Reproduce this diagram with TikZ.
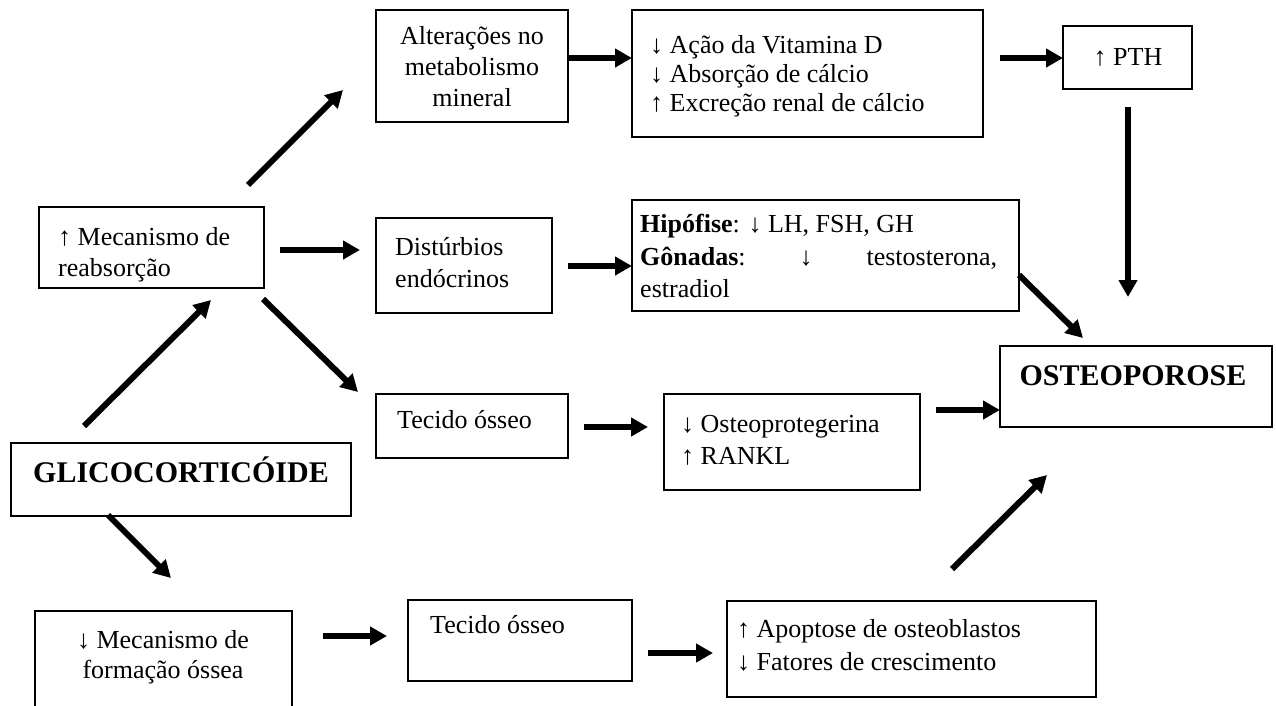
\documentclass[tikz,border=0pt]{standalone}
\usepackage{fontspec}
\setmainfont{Liberation Serif}
\usetikzlibrary{arrows.meta}
\begin{document}
\begin{tikzpicture}[x=1pt,y=-1pt,
  box/.style={draw, line width=1.8pt, inner sep=0pt},
  nobox/.style={inner sep=0pt},
  boxline/.style={line width=1.8pt},
  txt/.style={inner sep=0pt, font=\fontsize{26}{30}\selectfont},
  big/.style={inner sep=0pt, font=\fontsize{30}{34}\selectfont\bfseries},
  arr/.style={line width=6pt, -{Triangle[length=17pt,width=18pt]}},
]
\fill[white] (0,0) rectangle (1276,706);
\useasboundingbox (0,0) rectangle (1276,706);

% boxes
\node[box, minimum width=192pt, minimum height=112pt] (alt) at (472,66) {};
\node[box, minimum width=351pt, minimum height=127pt] (acao) at (807.5,73.5) {};
\node[box, minimum width=129pt, minimum height=63pt] (pth) at (1127.5,57.5) {};
\node[box, minimum width=225pt, minimum height=81pt] (reab) at (151.5,247.5) {};
\node[box, minimum width=176pt, minimum height=95pt] (dist) at (464,265.5) {};
\node[box, minimum width=387pt, minimum height=111pt] (hip) at (825.5,255.5) {};
\node[box, minimum width=272pt, minimum height=81pt] (osteo) at (1136,386.5) {};
\node[box, minimum width=192pt, minimum height=64pt] (tec1) at (472,426) {};
\node[box, minimum width=256pt, minimum height=96pt] (opg) at (792,442) {};
\node[box, minimum width=340pt, minimum height=73pt] (glico) at (181,479.5) {};
\node[nobox, minimum width=257pt, minimum height=95pt] (form) at (163.5,658.5) {};
\draw[boxline] (form.south west) |- (form.north east) -- (form.south east);
\node[box, minimum width=224pt, minimum height=81pt] (tec2) at (520,640.5) {};
\node[box, minimum width=369pt, minimum height=96pt] (apo) at (911.5,649) {};

% texts
\node[txt, anchor=base] (alt1) at (472,45) {Alterações no};
\node[txt, anchor=base] (alt2) at (472,76) {metabolismo};
\node[txt, anchor=base] (alt3) at (472,107) {mineral};

\node[txt, anchor=base west] (acao1) at (650,54) {↓ Ação da Vitamina D};
\node[txt, anchor=base west] (acao2) at (650,83) {↓ Absorção de cálcio};
\node[txt, anchor=base west] (acao3) at (650,112) {↑ Excreção renal de cálcio};

\node[txt, anchor=base] (pth1) at (1128,66) {↑ PTH};

\node[txt, anchor=base west] (reab1) at (58,245) {↑ Mecanismo de};
\node[txt, anchor=base west] (reab2) at (58,276) {reabsorção};

\node[txt, anchor=base west] (dist1) at (395,255) {Distúrbios};
\node[txt, anchor=base west] (dist2) at (395,287) {endócrinos};

\node[txt, anchor=base west] (hip1) at (640,232) {\textbf{Hipófise}: ↓ LH, FSH, GH};
\node[txt, anchor=base west] (hip2) at (640,265) {\hbox to 357pt{\textbf{Gônadas}:\hfill ↓\hfill testosterona,}};
\node[txt, anchor=base west] (hip3) at (640,297) {estradiol};

\node[big, anchor=base] (ost1) at (1133,385) {OSTEOPOROSE};

\node[txt, anchor=base west] (tec1a) at (397,428) {Tecido ósseo};

\node[txt, anchor=base west] (opg1) at (681,432) {↓ Osteoprotegerina};
\node[txt, anchor=base west] (opg2) at (681,464) {↑ RANKL};

\node[big, anchor=base] (gli1) at (181,482) {GLICOCORTICÓIDE};

\node[txt, anchor=base] (form1) at (163,648) {↓ Mecanismo de};
\node[txt, anchor=base] (form2) at (163,678) {formação óssea};

\node[txt, anchor=base west] (tec2a) at (430,633) {Tecido ósseo};

\node[txt, anchor=base west] (apo1) at (737,637) {↑ Apoptose de osteoblastos};
\node[txt, anchor=base west] (apo2) at (737,670) {↓ Fatores de crescimento};

% arrow end points
\coordinate (a1s) at (248,185);  \coordinate (a1e) at (343,90);
\coordinate (a2s) at (568,58);   \coordinate (a2e) at (632,58);
\coordinate (a3s) at (1000,58);  \coordinate (a3e) at (1063,58);
\coordinate (a4s) at (1128,107); \coordinate (a4e) at (1128,297);
\coordinate (a5s) at (280,250);  \coordinate (a5e) at (360,250);
\coordinate (a6s) at (568,266);  \coordinate (a6e) at (632,266);
\coordinate (a7s) at (1019,275); \coordinate (a7e) at (1083,338);
\coordinate (a8s) at (263,299);  \coordinate (a8e) at (358,392);
\coordinate (a9s) at (84,426);   \coordinate (a9e) at (211,300);
\coordinate (a10s) at (584,427); \coordinate (a10e) at (648,427);
\coordinate (a11s) at (936,410); \coordinate (a11e) at (1000,410);
\coordinate (a12s) at (108,515); \coordinate (a12e) at (171,578);
\coordinate (a13s) at (323,636); \coordinate (a13e) at (387,636);
\coordinate (a14s) at (648,653); \coordinate (a14e) at (713,653);
\coordinate (a15s) at (952,569); \coordinate (a15e) at (1047,475);

\draw[arr] (a1s) -- (a1e);
\draw[arr] (a2s) -- (a2e);
\draw[arr] (a3s) -- (a3e);
\draw[arr] (a4s) -- (a4e);
\draw[arr] (a5s) -- (a5e);
\draw[arr] (a6s) -- (a6e);
\draw[arr] (a7s) -- (a7e);
\draw[arr] (a8s) -- (a8e);
\draw[arr] (a9s) -- (a9e);
\draw[arr] (a10s) -- (a10e);
\draw[arr] (a11s) -- (a11e);
\draw[arr] (a12s) -- (a12e);
\draw[arr] (a13s) -- (a13e);
\draw[arr] (a14s) -- (a14e);
\draw[arr] (a15s) -- (a15e);
\end{tikzpicture}
\end{document}
